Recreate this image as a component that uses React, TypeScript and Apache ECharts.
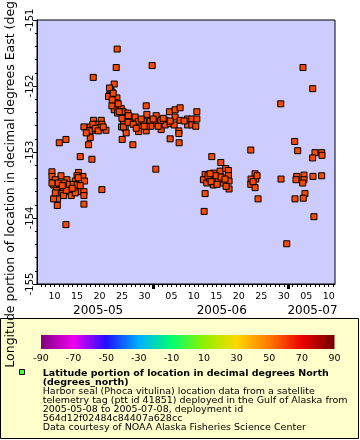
import React, { useEffect, useRef } from "react";
import * as echarts from "echarts";

const FONT = "DejaVu Sans";

// x values: days since 2005-05-01T00:00Z
const xMinDay = 5.1;
const xMaxDay = 71.4;
const dayLabelValues = [9, 14, 19, 24, 29, 35, 40, 45, 50, 55, 60, 65, 70];
const monthStartValues = [31, 61];
const monthLabels = ["2005-05", "2005-06", "2005-07"];
const monthLabelValues = [18.7, 46.2, 66.4];

const lonMin = -155;
const lonMax = -151;

const colorbarTicks = [-90, -70, -50, -30, -10, 10, 30, 50, 70, 90];
const palette = ["#800080", "#f000f0", "#2010ff", "#00b0ff", "#00ff70", "#90f000", "#ffd800", "#ff7800", "#ee0000", "#700000"];

// [day since 2005-05-01, longitude (deg E), latitude (deg N)]
const sealPositions: [number, number, number][] = [
  [8.43, -153.30, 57.7], [10.43, -153.36, 57.7], [11.77, -153.42, 57.7], [14.34, -153.31, 57.7],
  [15.32, -153.37, 57.7], [13.99, -153.36, 57.7], [8.43, -153.37, 57.7], [9.17, -153.42, 57.7],
  [8.79, -153.50, 57.7], [10.12, -153.57, 57.7], [11.01, -153.56, 57.7], [9.39, -153.58, 57.7],
  [12.88, -153.53, 57.7], [13.61, -153.44, 57.7], [15.68, -153.44, 57.7], [12.12, -153.60, 57.7],
  [14.57, -153.60, 57.7], [15.54, -153.60, 57.7], [13.46, -153.58, 57.7], [10.66, -153.63, 57.7],
  [12.72, -153.66, 57.7], [11.01, -153.66, 57.7], [15.54, -153.66, 57.7], [9.68, -153.71, 57.7],
  [8.79, -153.71, 57.7], [9.61, -153.81, 57.7], [15.54, -153.79, 57.7], [19.54, -153.57, 57.7],
  [11.54, -154.10, 57.7], [8.43, -153.47, 57.7], [9.83, -153.47, 57.7], [11.17, -153.47, 57.7],
  [12.28, -153.49, 57.7], [13.17, -153.49, 57.7], [14.06, -153.50, 57.7], [14.72, -153.51, 57.7],
  [11.61, -153.58, 57.7], [13.61, -153.62, 57.7], [10.72, -153.51, 57.7], [9.17, -153.62, 57.7],
  [14.28, -153.39, 57.7], [12.94, -153.55, 57.7],
  [10.06, -152.86, 57.8], [11.54, -152.81, 57.8], [14.72, -153.07, 57.8], [17.32, -153.11, 57.8],
  [15.54, -152.62, 57.8], [17.68, -152.52, 57.8], [19.39, -152.52, 57.8], [18.28, -152.58, 57.8],
  [19.54, -152.58, 57.8], [20.43, -152.67, 57.8], [16.94, -152.62, 57.8], [17.32, -152.67, 57.8],
  [19.17, -152.63, 57.8], [16.94, -152.78, 57.8], [16.57, -152.89, 57.8], [16.79, -152.68, 57.8],
  [17.54, -152.58, 57.8], [18.06, -152.64, 57.8], [18.72, -152.68, 57.8], [16.06, -152.71, 57.8],
  [19.83, -152.62, 57.8],
  [22.94, -151.44, 57.9], [22.72, -151.72, 57.9], [30.72, -151.69, 57.9], [17.61, -151.87, 57.9],
  [22.28, -151.97, 57.9], [29.39, -152.30, 57.9],
  [21.39, -152.05, 57.9], [21.77, -152.09, 57.9], [21.23, -152.14, 57.9], [21.99, -152.16, 57.9],
  [22.88, -152.18, 57.9], [22.50, -152.25, 57.9], [22.72, -152.32, 57.9], [22.28, -152.36, 57.9],
  [23.01, -152.41, 57.9], [23.83, -152.34, 57.9], [24.28, -152.39, 57.9], [25.32, -152.41, 57.9],
  [25.83, -152.47, 57.9], [26.72, -152.49, 57.9], [25.10, -152.49, 57.9], [24.34, -152.54, 57.9],
  [23.90, -152.62, 57.9], [24.72, -152.64, 57.9], [24.94, -152.71, 57.9], [24.05, -152.81, 57.9],
  [26.43, -152.89, 57.9], [21.23, -152.03, 57.9], [21.01, -152.16, 57.9], [21.77, -152.30, 57.9],
  [25.45, -152.45, 57.9], [23.99, -152.49, 57.9], [24.34, -152.62, 57.9], [21.83, -152.21, 57.9],
  [22.06, -152.11, 57.9], [23.17, -152.27, 57.9], [23.39, -152.39, 57.9],
  [26.94, -152.47, 57.9], [27.68, -152.54, 57.9], [27.68, -152.62, 57.9], [27.68, -152.69, 57.9],
  [28.79, -152.54, 57.9], [29.54, -152.43, 57.9], [30.28, -152.54, 57.9], [30.43, -152.61, 57.9],
  [29.39, -152.68, 57.9], [31.61, -152.45, 57.9], [31.77, -152.57, 57.9], [32.72, -152.66, 57.9],
  [32.50, -152.54, 57.9], [33.61, -152.52, 57.9], [33.61, -152.59, 57.9], [34.57, -152.39, 57.9],
  [34.72, -152.57, 57.9], [35.83, -152.36, 57.9], [36.94, -152.33, 57.9], [35.83, -152.47, 57.9],
  [35.61, -152.59, 57.9], [36.94, -152.52, 57.9], [36.66, -152.68, 57.9], [36.66, -152.72, 57.9],
  [34.72, -152.80, 57.9], [36.72, -152.86, 57.9], [38.57, -152.50, 57.9], [39.54, -152.50, 57.9],
  [40.66, -152.39, 57.9], [40.66, -152.50, 57.9], [38.57, -152.59, 57.9], [39.54, -152.59, 57.9],
  [40.43, -152.61, 57.9], [29.39, -152.61, 57.9], [32.66, -152.52, 57.9], [34.72, -152.53, 57.9],
  [37.83, -152.53, 57.9], [31.54, -153.26, 57.9], [25.39, -152.55, 57.9], [26.50, -152.58, 57.9],
  [27.17, -152.64, 57.9], [28.28, -152.50, 57.9], [28.94, -152.61, 57.9], [30.94, -152.50, 57.9],
  [32.06, -152.61, 57.9], [33.17, -152.49, 57.9],
  [42.50, -153.34, 57.7], [42.12, -153.42, 57.7], [42.88, -153.47, 57.7], [44.34, -153.32, 57.7],
  [44.65, -153.41, 57.7], [44.34, -153.50, 57.7], [45.83, -153.29, 57.7], [47.10, -153.25, 57.7],
  [47.68, -153.28, 57.7], [47.68, -153.36, 57.7], [47.83, -153.44, 57.7], [46.57, -153.47, 57.7],
  [47.83, -153.56, 57.7], [45.45, -153.42, 57.7], [43.46, -153.40, 57.7], [42.50, -153.63, 57.7],
  [42.28, -153.90, 57.7], [45.99, -153.16, 57.7], [43.99, -153.07, 57.7], [43.17, -153.36, 57.7],
  [43.83, -153.45, 57.7], [44.94, -153.36, 57.7], [46.06, -153.38, 57.7], [46.94, -153.41, 57.7],
  [47.17, -153.52, 57.7], [45.17, -153.49, 57.7], [43.61, -153.33, 57.7],
  [53.61, -153.33, 57.7], [53.77, -153.41, 57.7], [52.72, -153.41, 57.7], [52.66, -153.49, 57.7],
  [53.61, -153.54, 57.7], [54.28, -153.71, 57.7], [53.17, -153.45, 57.7], [54.06, -153.36, 57.7],
  [52.66, -152.97, 57.7],
  [59.39, -153.41, 57.7], [62.88, -153.37, 57.7], [62.72, -153.42, 57.7], [64.50, -153.35, 57.7],
  [64.50, -153.42, 57.7], [64.21, -153.47, 57.7], [66.50, -153.37, 57.7], [68.43, -153.36, 57.7],
  [64.72, -153.63, 57.7], [64.34, -153.70, 57.7], [62.50, -153.71, 57.7], [66.72, -153.98, 57.7],
  [60.66, -154.39, 57.7], [62.43, -152.84, 57.7], [63.10, -152.98, 57.7], [66.94, -153.01, 57.7],
  [68.43, -153.01, 57.7], [68.50, -153.05, 57.7], [66.43, -153.09, 57.7],
  [64.28, -151.72, 57.8], [66.43, -152.04, 57.8], [59.32, -152.27, 57.8],
];

const legendTitle = ["Latitude portion of location in decimal degrees North", "(degrees_north)"];
const legendBody = [
  "Harbor seal (Phoca vitulina) location data from a satellite",
  "telemetry tag (ptt id 41851) deployed in the Gulf of Alaska from",
  "2005-05-08 to 2005-07-08, deployment id",
  "564d12f02484c84407a628cc",
  "Data courtesy of NOAA Alaska Fisheries Science Center",
];

const yTitle = "Longitude portion of location in decimal degrees East (degrees_east)";

const DAY_MS = 86400000;
const BASE = Date.UTC(2005, 4, 1);

export default function App() {
  const ref = useRef<HTMLDivElement>(null);
  useEffect(() => {
    if (!ref.current) return;
    const chart = echarts.init(ref.current, null, { renderer: "svg" });

    const dailyTicks: number[] = [];
    for (let d = Math.ceil(xMinDay); d <= Math.floor(xMaxDay); d++) dailyTicks.push(d);

    const dayFmt = (v: number) => {
      const dt = new Date(BASE + Math.round(v) * DAY_MS);
      const s = String(dt.getUTCDate());
      return s.length < 2 ? "0" + s : s;
    };

    const LINE = 8.9;
    const legendLineY = (i: number) => 372.8 + i * LINE;
    const graphics: any[] = [
      {
        type: "rect",
        z: -10,
        shape: { x: 0.5, y: 318.5, width: 358, height: 120 },
        style: { fill: "#ffffcc", stroke: "#000", lineWidth: 1 },
      },
      {
        type: "rect",
        shape: { x: 19.5, y: 369.5, width: 5, height: 5 },
        style: { fill: "#44ff44", stroke: "#000", lineWidth: 1 },
      },
    ];
    legendTitle.forEach((t, i) => {
      graphics.push({
        type: "text",
        x: 42.7,
        y: legendLineY(i),
        style: { text: t, fill: "#000", fontFamily: FONT, fontSize: 9.5, lineHeight: LINE, fontWeight: "bold", align: "left", verticalAlign: "middle" },
      });
    });
    legendBody.forEach((t, i) => {
      graphics.push({
        type: "text",
        x: 42.7,
        y: legendLineY(i + legendTitle.length),
        style: { text: t, fill: "#000", fontFamily: FONT, fontSize: 9.5, lineHeight: LINE, align: "left", verticalAlign: "middle" },
      });
    });

    const option: any = {
      animation: false,
      textStyle: { fontFamily: FONT },
      grid: [
        { left: 37, right: 25, top: 20, bottom: 156, show: true, backgroundColor: "#ccccff", borderColor: "#000", borderWidth: 1, containLabel: false, outerBoundsMode: "none" },
        { left: 41, right: 25.5, top: 335, height: 14, show: false, containLabel: false, outerBoundsMode: "none" },
      ],
      xAxis: [
        {
          type: "value",
          gridIndex: 0,
          min: xMinDay,
          max: xMaxDay,
          position: "bottom",
          axisLine: { show: true, lineStyle: { color: "#000", width: 1 } },
          axisTick: { show: true, customValues: dailyTicks, length: 3, lineStyle: { color: "#000" } },
          axisLabel: { customValues: dayLabelValues, formatter: dayFmt, fontSize: 9.5, color: "#000", margin: 6, fontFamily: FONT },
          splitLine: { show: false },
        },
        {
          type: "value",
          gridIndex: 0,
          min: xMinDay,
          max: xMaxDay,
          position: "bottom",
          axisLine: { show: false },
          axisTick: { show: true, customValues: monthStartValues, length: 5, lineStyle: { color: "#000", width: 3 } },
          axisLabel: {
            customValues: monthLabelValues,
            formatter: (v: number) => monthLabels[monthLabelValues.indexOf(v)] ?? "",
            fontSize: 12,
            color: "#000",
            margin: 20,
            fontFamily: FONT,
          },
          splitLine: { show: false },
        },
        {
          type: "value",
          gridIndex: 1,
          min: colorbarTicks[0],
          max: colorbarTicks[colorbarTicks.length - 1],
          interval: 20,
          axisLine: { show: false },
          axisTick: { show: false },
          axisLabel: { fontSize: 9.5, color: "#000", margin: 3, fontFamily: FONT },
          splitLine: { show: false },
        },
      ],
      yAxis: [
        {
          type: "value",
          gridIndex: 0,
          min: lonMin,
          max: lonMax,
          interval: 1,
          name: yTitle,
          nameLocation: "middle",
          nameGap: 15,
          nameTextStyle: { fontSize: 12.5, color: "#000", fontFamily: FONT },
          axisLine: { show: true, lineStyle: { color: "#000" } },
          axisTick: { show: true, length: 4, lineStyle: { color: "#000" } },
          minorTick: { show: true, splitNumber: 5, length: 2, lineStyle: { color: "#000" } },
          axisLabel: { rotate: 90, fontSize: 10, color: "#000", margin: 3, fontFamily: FONT },
          splitLine: { show: false },
        },
        { type: "value", gridIndex: 1, min: 0, max: 1, show: false },
      ],
      visualMap: {
        type: "continuous",
        show: false,
        seriesIndex: 0,
        dimension: 2,
        min: colorbarTicks[0],
        max: colorbarTicks[colorbarTicks.length - 1],
        inRange: { color: palette },
      },
      series: [
        {
          type: "scatter",
          xAxisIndex: 0,
          yAxisIndex: 0,
          data: sealPositions,
          symbol: "rect",
          symbolSize: 6,
          itemStyle: { borderColor: "#000", borderWidth: 1, opacity: 1 },
        },
        {
          type: "custom",
          xAxisIndex: 2,
          yAxisIndex: 1,
          data: [[0, 0.5]],
          renderItem: (params: any) => {
            const cs = params.coordSys;
            return {
              type: "rect",
              shape: { x: cs.x, y: cs.y, width: cs.width, height: cs.height },
              style: {
                fill: new echarts.graphic.LinearGradient(
                  0, 0, 1, 0,
                  palette.map((c, i) => ({ offset: i / (palette.length - 1), color: c }))
                ),
              },
            };
          },
        },
      ],
      graphic: graphics,
    };
    chart.setOption(option);
    return () => chart.dispose();
  }, []);
  return <div ref={ref} style={{ position: "fixed", left: 0, top: 0, width: 360, height: 440 }} />;
}
